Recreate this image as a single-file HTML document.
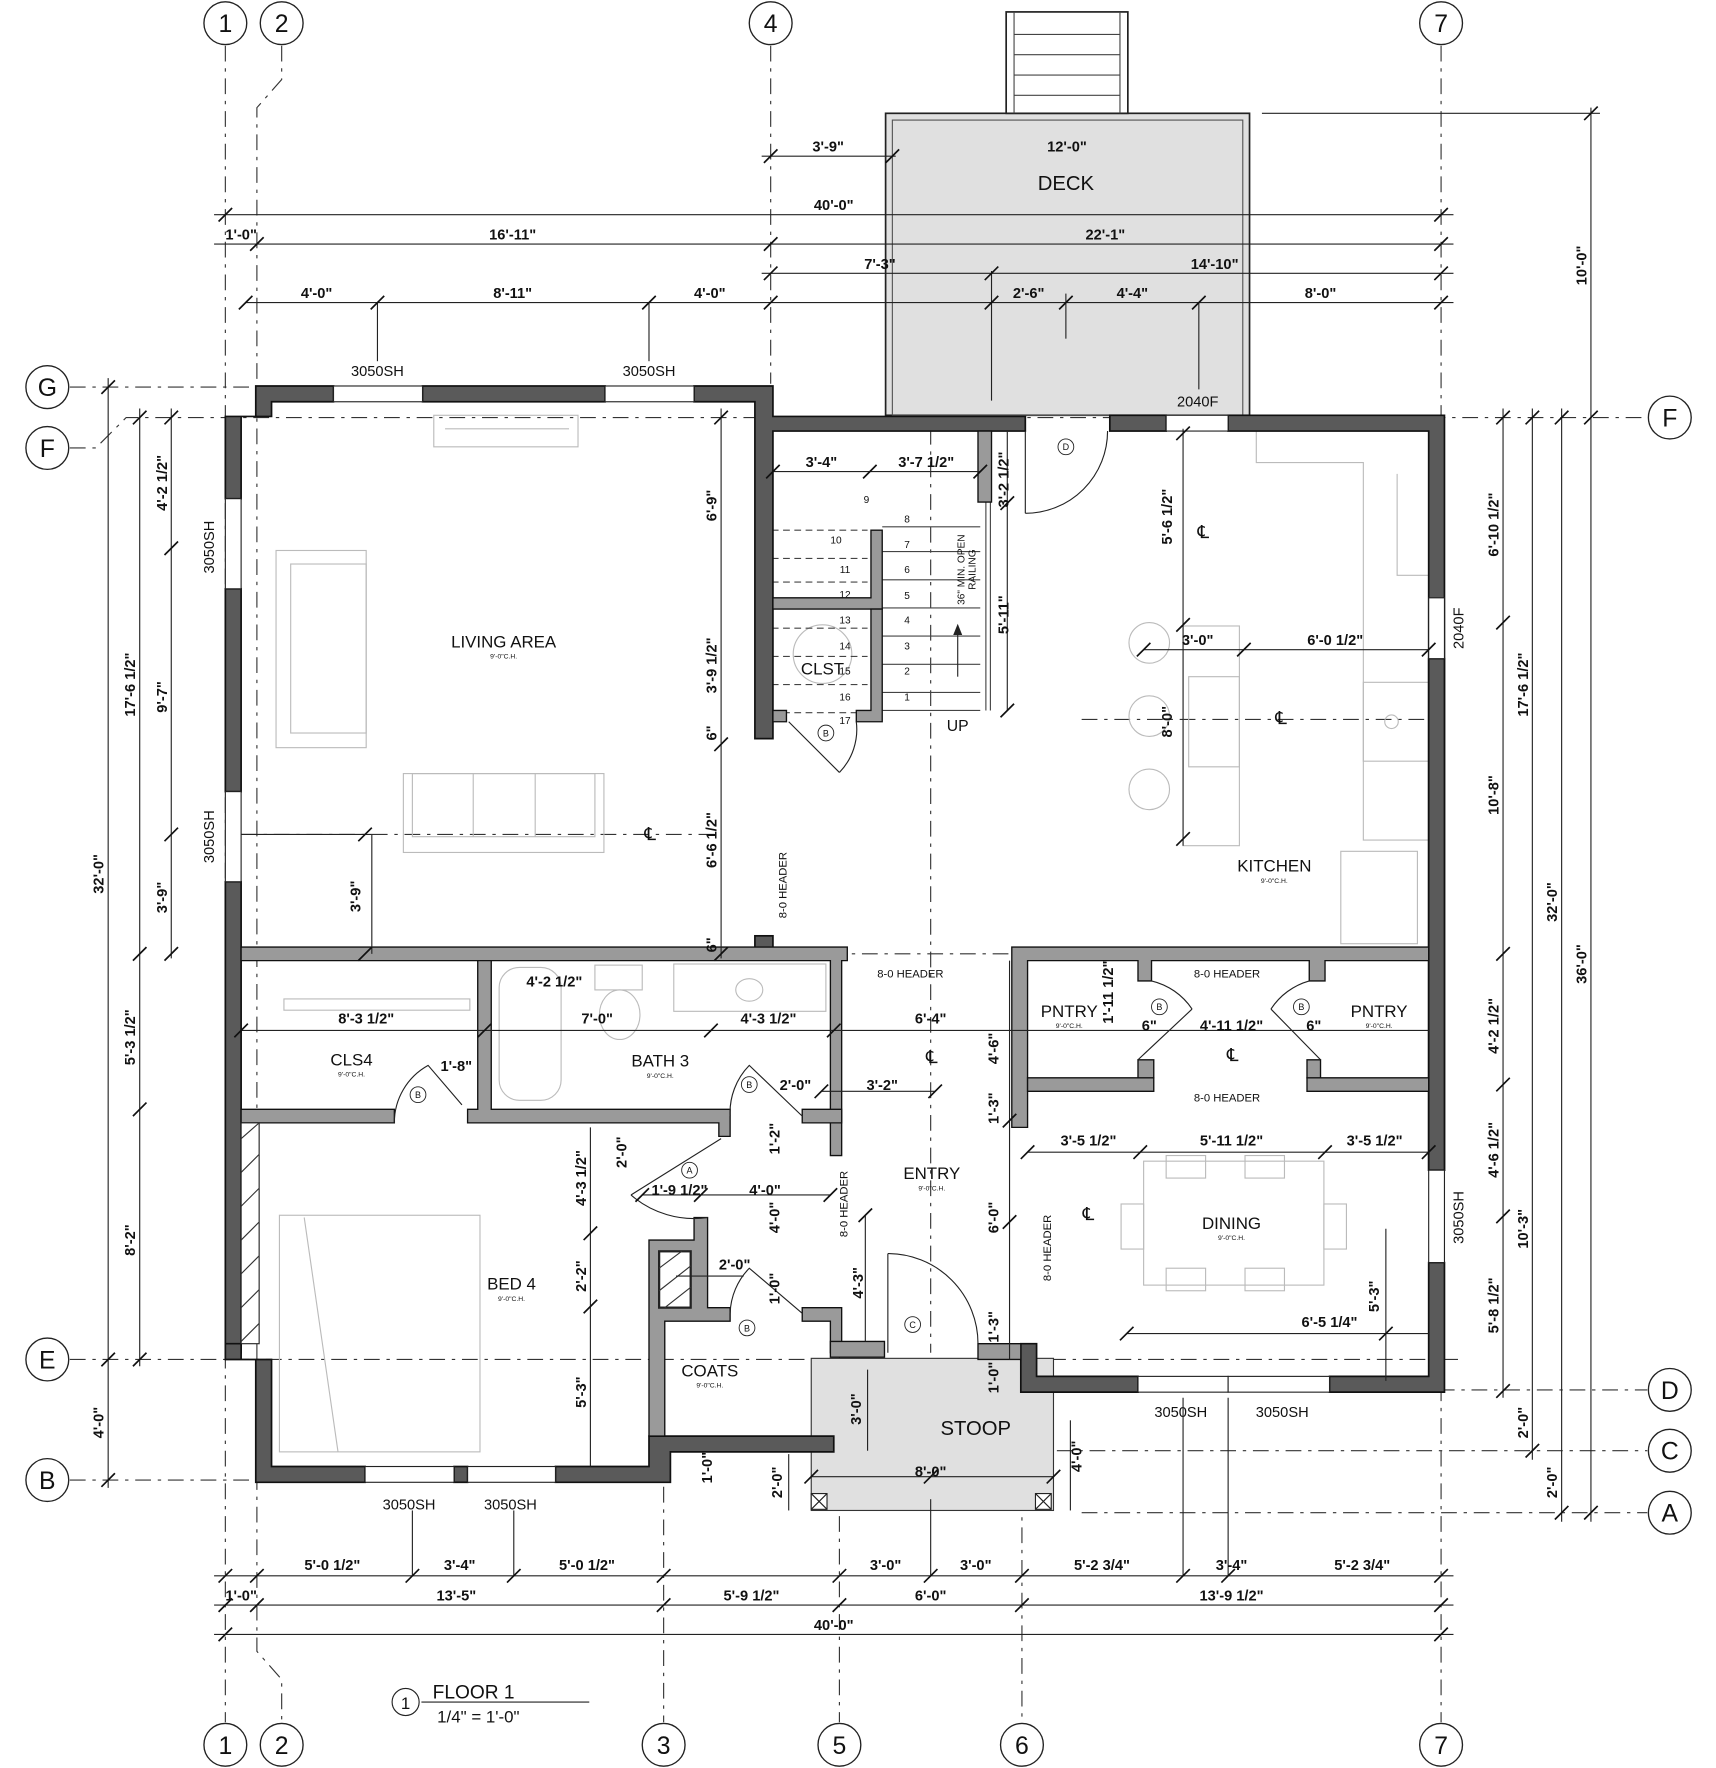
<!DOCTYPE html>
<html><head><meta charset="utf-8"><style>
html,body{margin:0;padding:0;background:#fff}
svg{display:block}
text{font-family:"Liberation Sans",sans-serif;fill:#111}
.d{font-size:13px;font-weight:bold;text-anchor:middle}
.r{font-size:15px;text-anchor:middle}
.s{font-size:6px;text-anchor:middle}
.n{font-size:9px;text-anchor:middle}
.g{font-size:22px;text-anchor:middle}
</style></head><body>
<svg width="1716" height="1768" viewBox="0 0 1523 1568" xmlns="http://www.w3.org/2000/svg">
<rect width="1523" height="1568" fill="#fff"/>
<g stroke="#333" stroke-width="1" stroke-dasharray="14,6,3,6" fill="none">
<line x1="200" y1="40" x2="200" y2="1528"/>
<polyline points="250,40 250,70 228,95 228,1465 250,1490 250,1528"/>
<line x1="684" y1="40" x2="684" y2="340"/>
<line x1="1279" y1="40" x2="1279" y2="1528"/>
<line x1="589" y1="1290" x2="589" y2="1528"/>
<line x1="745" y1="1200" x2="745" y2="1528"/>
<line x1="907" y1="1210" x2="907" y2="1528"/>
<line x1="62" y1="343" x2="230" y2="343"/>
<polyline points="62,397 85,397 112,370 1462,370"/>
<line x1="62" y1="1206" x2="1300" y2="1206"/>
<line x1="62" y1="1313" x2="230" y2="1313"/>
<line x1="900" y1="1233" x2="1462" y2="1233"/>
<line x1="590" y1="1287" x2="1462" y2="1287"/>
<line x1="960" y1="1342" x2="1462" y2="1342"/>
<line x1="214" y1="740" x2="640" y2="740"/>
<line x1="960" y1="638" x2="1268" y2="638"/>
<line x1="826" y1="380" x2="826" y2="1200"/>
<line x1="214" y1="846" x2="1268" y2="846"/>
</g>
<g fill="#fff" stroke="#222" stroke-width="1.2">
<circle cx="200" cy="20" r="19"/><circle cx="250" cy="20" r="19"/><circle cx="684" cy="20" r="19"/><circle cx="1279" cy="20" r="19"/>
<circle cx="200" cy="1548" r="19"/><circle cx="250" cy="1548" r="19"/><circle cx="589" cy="1548" r="19"/><circle cx="745" cy="1548" r="19"/><circle cx="907" cy="1548" r="19"/><circle cx="1279" cy="1548" r="19"/>
<circle cx="42" cy="343" r="19"/><circle cx="42" cy="397" r="19"/><circle cx="42" cy="1206" r="19"/><circle cx="42" cy="1313" r="19"/>
<circle cx="1482" cy="370" r="19"/><circle cx="1482" cy="1233" r="19"/><circle cx="1482" cy="1287" r="19"/><circle cx="1482" cy="1342" r="19"/>
</g>
<g class="g">
<text x="200" y="28">1</text><text x="250" y="28">2</text><text x="684" y="28">4</text><text x="1279" y="28">7</text>
<text x="200" y="1556">1</text><text x="250" y="1556">2</text><text x="589" y="1556">3</text><text x="745" y="1556">5</text><text x="907" y="1556">6</text><text x="1279" y="1556">7</text>
<text x="42" y="351">G</text><text x="42" y="405">F</text><text x="42" y="1214">E</text><text x="42" y="1321">B</text>
<text x="1482" y="378">F</text><text x="1482" y="1241">D</text><text x="1482" y="1295">C</text><text x="1482" y="1350">A</text>
</g>
<rect x="786" y="100" width="323" height="268" fill="#e0e0e0" stroke="#222" stroke-width="1.5"/>
<rect x="792" y="106" width="311" height="262" fill="none" stroke="#555" stroke-width="1"/>
<rect x="893" y="10" width="108" height="90" fill="#fff" stroke="#222" stroke-width="1.5"/>
<g stroke="#444" stroke-width="1">
<line x1="900" y1="10" x2="900" y2="100"/><line x1="994" y1="10" x2="994" y2="100"/>
<line x1="900" y1="30" x2="994" y2="30"/><line x1="900" y1="48" x2="994" y2="48"/><line x1="900" y1="66" x2="994" y2="66"/><line x1="900" y1="84" x2="994" y2="84"/>
</g>
<text x="946" y="168" style="font-size:18px;text-anchor:middle">DECK</text>
<rect x="720" y="1205" width="215" height="135" fill="#e0e0e0" stroke="#333" stroke-width="1"/>
<g fill="#fff" stroke="#222"><rect x="720" y="1325" width="14" height="14"/><rect x="919" y="1325" width="14" height="14"/></g>
<path d="M720,1325 l14,14 M734,1325 l-14,14 M919,1325 l14,14 M933,1325 l-14,14" stroke="#222"/>
<text x="866" y="1273" style="font-size:18px;text-anchor:middle">STOOP</text>
<g fill="none" stroke="#bbb" stroke-width="1">
<rect x="385" y="368" width="128" height="28"/><line x1="395" y1="380" x2="505" y2="380"/>
<rect x="245" y="488" width="80" height="175"/><rect x="258" y="500" width="67" height="150"/>
<rect x="358" y="686" width="178" height="70"/><rect x="366" y="686" width="162" height="56"/><line x1="420" y1="686" x2="420" y2="742"/><line x1="475" y1="686" x2="475" y2="742"/>
<rect x="1050" y="555" width="50" height="195"/><rect x="1055" y="600" width="45" height="80"/>
<circle cx="1020" cy="570" r="18"/><circle cx="1020" cy="635" r="18"/><circle cx="1020" cy="700" r="18"/>
<rect x="1210" y="605" width="58" height="70"/><circle cx="1235" cy="640" r="6"/>
<polyline points="1115,380 1115,410 1210,410 1210,745 1268,745"/><polyline points="1240,420 1240,510 1268,510"/>
<rect x="1190" y="755" width="68" height="82"/>
<rect x="1015" y="1030" width="160" height="110"/><rect x="995" y="1068" width="20" height="40"/><rect x="1175" y="1068" width="20" height="40"/>
<rect x="1035" y="1025" width="35" height="20"/><rect x="1105" y="1025" width="35" height="20"/><rect x="1035" y="1125" width="35" height="20"/><rect x="1105" y="1125" width="35" height="20"/>
<rect x="248" y="1078" width="178" height="210"/><line x1="270" y1="1080" x2="300" y2="1288"/>
<rect x="443" y="858" width="55" height="118" rx="18"/><ellipse cx="550" cy="900" rx="18" ry="22"/><rect x="528" y="856" width="42" height="22"/>
<rect x="598" y="855" width="135" height="42"/><ellipse cx="665" cy="878" rx="12" ry="10"/>
<rect x="252" y="886" width="165" height="10"/>
<circle cx="730" cy="580" r="26"/>
</g>
<g stroke="#444" stroke-width="1">
<line x1="775" y1="489" x2="870" y2="489"/><line x1="775" y1="514" x2="870" y2="514"/><line x1="775" y1="539" x2="870" y2="539"/><line x1="775" y1="564" x2="870" y2="564"/><line x1="775" y1="589" x2="870" y2="589"/><line x1="775" y1="614" x2="870" y2="614"/><line x1="775" y1="630" x2="870" y2="630"/><line x1="783" y1="467" x2="870" y2="467"/>
<line x1="875" y1="445" x2="875" y2="630"/><line x1="879" y1="445" x2="879" y2="630"/>
</g>
<g stroke="#444" stroke-width="1" stroke-dasharray="6,4">
<line x1="685" y1="532" x2="770" y2="532"/><line x1="685" y1="557" x2="770" y2="557"/><line x1="685" y1="582" x2="770" y2="582"/><line x1="685" y1="607" x2="770" y2="607"/><line x1="685" y1="632" x2="770" y2="632"/>
<line x1="685" y1="470" x2="770" y2="470"/><line x1="685" y1="495" x2="770" y2="495"/><line x1="685" y1="516" x2="770" y2="516"/>
</g>
<line x1="850" y1="600" x2="850" y2="555" stroke="#222"/><path d="M846,563 L850,553 L854,563Z" fill="#222"/>
<g class="n">
<text x="769" y="446">9</text><text x="805" y="463">8</text><text x="805" y="486">7</text><text x="805" y="508">6</text><text x="805" y="531">5</text><text x="805" y="553">4</text><text x="805" y="576">3</text><text x="805" y="598">2</text><text x="805" y="621">1</text>
<text x="742" y="482">10</text><text x="750" y="508">11</text><text x="750" y="530">12</text><text x="750" y="553">13</text><text x="750" y="576">14</text><text x="750" y="598">15</text><text x="750" y="621">16</text><text x="750" y="642">17</text>
</g>
<text transform="translate(856,505) rotate(-90)" class="n">36" MIN. OPEN</text>
<text transform="translate(866,505) rotate(-90)" class="n">RAILING</text>
<text x="850" y="648" class="r" style="font-size:14px">UP</text>
<g fill="#5a5a5a" stroke="#111" stroke-width="1.5">
<path d="M227,342 L296,342 L296,356 L241,356 L241,369 L214,369 L214,442 L200,442 L200,369 L227,369Z"/>
<rect x="375" y="342" width="162" height="14"/>
<path d="M616,342 L686,342 L686,369 L910,369 L910,382 L686,382 L686,655 L670,655 L670,356 L616,356Z"/>
<rect x="200" y="522" width="14" height="180"/>
<rect x="200" y="782" width="14" height="418"/>
<path d="M200,1192 L200,1206 L227,1206 L227,1315 L324,1315 L324,1301 L241,1301 L241,1206 L214,1206 L214,1192Z"/>
<rect x="403" y="1301" width="12" height="14"/>
<path d="M493,1301 L576,1301 L576,1274 L740,1274 L740,1288 L595,1288 L595,1315 L493,1315Z"/>
<rect x="985" y="368" width="50" height="14"/>
<path d="M1090,368 L1282,368 L1282,1038 L1268,1038 L1268,382 L1090,382Z"/>
<rect x="1268" y="584" width="14" height="454"/>
<path d="M1268,1120 L1282,1120 L1282,1235 L1180,1235 L1180,1221 L1268,1221Z"/>
<path d="M906,1235 L1010,1235 L1010,1221 L920,1221 L920,1192 L906,1192Z"/>
<rect x="670" y="830" width="16" height="16"/>
</g>
<g fill="#fff" stroke="#222" stroke-width="1">
<rect x="296" y="342" width="79" height="14"/><rect x="537" y="342" width="79" height="14"/>
<rect x="200" y="442" width="14" height="80"/><rect x="200" y="702" width="14" height="80"/>
<rect x="1035" y="368" width="55" height="14"/><rect x="1268" y="530" width="14" height="54"/><rect x="1268" y="1038" width="14" height="82"/>
<rect x="324" y="1301" width="79" height="14"/><rect x="415" y="1301" width="78" height="14"/>
<rect x="1010" y="1221" width="80" height="14"/><rect x="1090" y="1221" width="90" height="14"/>
</g>
<g fill="#9a9a9a" stroke="#111" stroke-width="1.2">
<path d="M214,840 L752,840 L752,852 L747,852 L747,1025 L737,1025 L737,852 L214,852Z"/>
<path d="M898,840 L1268,840 L1268,852 L1176,852 L1176,870 L1162,870 L1162,852 L1022,852 L1022,870 L1010,870 L1010,852 L912,852 L912,1000 L898,1000Z"/>
<path d="M912,956 L1024,956 L1024,968 L912,968Z"/><path d="M1160,956 L1268,956 L1268,968 L1160,968Z"/>
<path d="M1010,940 L1024,940 L1024,956 L1010,956Z"/><path d="M1160,940 L1172,940 L1172,956 L1160,956Z"/>
<path d="M424,852 L436,852 L436,984 L648,984 L648,1008 L638,1008 L638,996 L415,996 L415,984 L424,984Z"/>
<path d="M214,984 L350,984 L350,996 L214,996Z"/>
<path d="M712,984 L747,984 L747,996 L712,996Z"/>
<path d="M616,1080 L628,1080 L628,1160 L648,1160 L648,1172 L590,1172 L590,1274 L576,1274 L576,1100 L616,1100Z"/>
<path d="M712,1160 L747,1160 L747,1200 L737,1200 L737,1172 L712,1172Z"/>
<path d="M737,1190 L785,1190 L785,1204 L737,1204Z"/>
<path d="M868,1192 L906,1192 L906,1206 L868,1206Z"/>
<path d="M773,470 L783,470 L783,540 L686,540 L686,530 L773,530Z"/>
<path d="M773,540 L783,540 L783,640 L760,640 L760,630 L773,630Z"/>
<path d="M686,630 L698,630 L698,640 L686,640Z"/>
<path d="M868,382 L880,382 L880,445 L868,445Z"/>
</g>
<rect x="214" y="996" width="16" height="196" fill="#fff" stroke="#222"/>
<path d="M214,1010 l16,-14 M214,1040 l16,-16 M214,1070 l16,-16 M214,1100 l16,-16 M214,1130 l16,-16 M214,1160 l16,-16 M214,1190 l16,-16" stroke="#333"/>
<rect x="585" y="1110" width="28" height="50" fill="#fff" stroke="#222" stroke-width="2"/>
<path d="M585,1125 l20,-15 M585,1145 l28,-22 M590,1160 l23,-18" stroke="#333"/>
<g fill="none" stroke="#222" stroke-width="1">
<path d="M910,382 L910,455 M910,455 A73,73 0 0 0 983,382"/>
<path d="M788,1200 L788,1112 M788,1112 A80,80 0 0 1 868,1192"/>
<path d="M700,640 L745,685 M745,685 A55,55 0 0 0 760,640"/>
<path d="M350,996 A58,58 0 0 1 380,945 L410,980"/>
<path d="M640,1010 L560,1060 M560,1060 A85,85 0 0 0 628,1080"/>
<path d="M648,990 A60,60 0 0 1 665,945 L712,990"/>
<path d="M648,1165 A60,60 0 0 1 665,1125 L712,1165"/>
<path d="M1010,940 L1058,895 M1022,870 A60,60 0 0 1 1058,895"/>
<path d="M1172,940 L1128,895 M1162,870 A60,60 0 0 0 1128,895"/>
</g>
<g fill="#fff" stroke="#222" stroke-width="0.8"><circle cx="946" cy="396" r="7"/><circle cx="733" cy="650" r="7"/><circle cx="371" cy="971" r="7"/><circle cx="665" cy="962" r="7"/><circle cx="612" cy="1038" r="7"/><circle cx="663" cy="1178" r="7"/><circle cx="810" cy="1175" r="7"/><circle cx="1029" cy="893" r="7"/><circle cx="1155" cy="893" r="7"/></g>
<g class="n" style="font-size:8px"><text x="946" y="399">D</text><text x="733" y="653">B</text><text x="371" y="974">B</text><text x="665" y="965">B</text><text x="612" y="1041">A</text><text x="663" y="1181">B</text><text x="810" y="1178">C</text><text x="1029" y="896">B</text><text x="1155" y="896">B</text></g>
<g class="r">
<text x="447" y="574">LIVING AREA</text><text x="1131" y="773">KITCHEN</text><text x="730" y="598">CLST</text>
<text x="312" y="945">CLS4</text><text x="586" y="946">BATH 3</text><text x="949" y="902">PNTRY</text><text x="1224" y="902">PNTRY</text>
<text x="827" y="1046">ENTRY</text><text x="1093" y="1090">DINING</text><text x="454" y="1144">BED 4</text><text x="630" y="1221">COATS</text>
</g>
<g class="s">
<text x="447" y="584">9'-0"C.H.</text><text x="1131" y="783">9'-0"C.H.</text><text x="312" y="955">9'-0"C.H.</text><text x="586" y="956">9'-0"C.H.</text><text x="949" y="912">9'-0"C.H.</text><text x="1224" y="912">9'-0"C.H.</text><text x="827" y="1056">9'-0"C.H.</text><text x="1093" y="1100">9'-0"C.H.</text><text x="454" y="1154">9'-0"C.H.</text><text x="630" y="1231">9'-0"C.H.</text>
</g>
<g class="n" style="font-size:10px"><text x="808" y="867">8-0 HEADER</text><text x="1089" y="867">8-0 HEADER</text><text x="1089" y="977">8-0 HEADER</text></g>
<text transform="translate(698,785) rotate(-90)" class="n" style="font-size:10px">8-0 HEADER</text>
<text transform="translate(752,1068) rotate(-90)" class="n" style="font-size:10px">8-0 HEADER</text>
<text transform="translate(933,1107) rotate(-90)" class="n" style="font-size:10px">8-0 HEADER</text>
<g style="font-size:13px;text-anchor:middle">
<text x="335" y="333">3050SH</text><text x="576" y="333">3050SH</text><text x="1063" y="360">2040F</text>
<text x="363" y="1339">3050SH</text><text x="453" y="1339">3050SH</text><text x="1048" y="1257">3050SH</text><text x="1138" y="1257">3050SH</text>
</g>
<text transform="translate(190,485) rotate(-90)" style="font-size:13px;text-anchor:middle">3050SH</text>
<text transform="translate(190,742) rotate(-90)" style="font-size:13px;text-anchor:middle">3050SH</text>
<text transform="translate(1299,557) rotate(-90)" style="font-size:13px;text-anchor:middle">2040F</text>
<text transform="translate(1299,1080) rotate(-90)" style="font-size:13px;text-anchor:middle">3050SH</text>
<g stroke="#222" stroke-width="1" fill="none">
<line x1="190" y1="190" x2="1290" y2="190"/><line x1="190" y1="216" x2="1290" y2="216"/><line x1="676" y1="242" x2="1290" y2="242"/><line x1="218" y1="268" x2="1290" y2="268"/><line x1="676" y1="138" x2="795" y2="138"/>
<line x1="190" y1="1398" x2="1290" y2="1398"/><line x1="190" y1="1424" x2="1290" y2="1424"/><line x1="190" y1="1450" x2="1290" y2="1450"/>
<line x1="96" y1="335" x2="96" y2="1320"/><line x1="124" y1="362" x2="124" y2="1212"/><line x1="152" y1="362" x2="152" y2="850"/>
<line x1="1412" y1="95" x2="1412" y2="1350"/><line x1="1386" y1="362" x2="1386" y2="1350"/><line x1="1360" y1="362" x2="1360" y2="1295"/><line x1="1334" y1="362" x2="1334" y2="1240"/>
<line x1="1120" y1="100" x2="1420" y2="100"/>
<line x1="640" y1="362" x2="640" y2="850"/><line x1="1050" y1="380" x2="1050" y2="750"/><line x1="1230" y1="1090" x2="1230" y2="1225"/>
<line x1="214" y1="914" x2="1268" y2="914"/><line x1="1015" y1="576" x2="1268" y2="576"/><line x1="214" y1="740" x2="330" y2="740"/>
<line x1="912" y1="1022" x2="1268" y2="1022"/><line x1="570" y1="1060" x2="737" y2="1060"/><line x1="600" y1="1132" x2="660" y2="1132"/>
<line x1="330" y1="740" x2="330" y2="846"/><line x1="524" y1="1000" x2="524" y2="1301"/><line x1="896" y1="852" x2="896" y2="1206"/><line x1="768" y1="1078" x2="768" y2="1190"/>
<line x1="720" y1="1310" x2="935" y2="1310"/><line x1="700" y1="1290" x2="700" y2="1340"/><line x1="950" y1="1260" x2="950" y2="1340"/><line x1="770" y1="1215" x2="770" y2="1287"/>
<line x1="880" y1="240" x2="880" y2="355"/><line x1="946" y1="260" x2="946" y2="300"/><line x1="1064" y1="268" x2="1064" y2="345"/><line x1="335" y1="268" x2="335" y2="320"/><line x1="576" y1="268" x2="576" y2="320"/>
<line x1="686" y1="418" x2="870" y2="418"/><line x1="894" y1="382" x2="894" y2="630"/>
<line x1="729" y1="968" x2="830" y2="968"/><line x1="1000" y1="1183" x2="1268" y2="1183"/>
<line x1="826" y1="1330" x2="826" y2="1398"/><line x1="1050" y1="1240" x2="1050" y2="1398"/><line x1="1090" y1="1240" x2="1090" y2="1398"/>
<line x1="456" y1="1340" x2="456" y2="1398"/><line x1="366" y1="1340" x2="366" y2="1398"/>
</g>
<g stroke="#111" stroke-width="1.5">
<path d="M194,196 l12,-12 M1273,196 l12,-12 M222,222 l12,-12 M678,222 l12,-12 M1273,222 l12,-12 M678,248 l12,-12 M874,248 l12,-12 M1273,248 l12,-12 M212,274 l12,-12 M329,274 l12,-12 M570,274 l12,-12 M678,274 l12,-12 M874,274 l12,-12 M940,274 l12,-12 M1058,274 l12,-12 M1273,274 l12,-12 M678,144 l12,-12 M786,144 l12,-12"/>
<path d="M194,1404 l12,-12 M222,1404 l12,-12 M360,1404 l12,-12 M450,1404 l12,-12 M583,1404 l12,-12 M739,1404 l12,-12 M820,1404 l12,-12 M901,1404 l12,-12 M1044,1404 l12,-12 M1084,1404 l12,-12 M1273,1404 l12,-12 M194,1430 l12,-12 M222,1430 l12,-12 M583,1430 l12,-12 M739,1430 l12,-12 M901,1430 l12,-12 M1273,1430 l12,-12 M194,1456 l12,-12 M1273,1456 l12,-12"/>
<path d="M90,349 l12,-12 M90,1212 l12,-12 M90,1319 l12,-12 M118,376 l12,-12 M118,852 l12,-12 M118,990 l12,-12 M118,1212 l12,-12 M146,376 l12,-12 M146,492 l12,-12 M146,746 l12,-12 M146,852 l12,-12"/>
<path d="M1406,106 l12,-12 M1406,376 l12,-12 M1406,1348 l12,-12 M1380,376 l12,-12 M1380,1348 l12,-12 M1354,376 l12,-12 M1354,1293 l12,-12 M1328,376 l12,-12 M1328,558 l12,-12 M1328,852 l12,-12 M1328,968 l12,-12 M1328,1085 l12,-12 M1328,1240 l12,-12"/>
<path d="M634,376 l12,-12 M634,666 l12,-12 M634,852 l12,-12 M1044,390 l12,-12 M1044,560 l12,-12 M1044,750 l12,-12 M208,920 l12,-12 M424,920 l12,-12 M625,920 l12,-12 M734,920 l12,-12 M1009,582 l12,-12 M1098,582 l12,-12 M1262,582 l12,-12 M906,1028 l12,-12 M1006,1028 l12,-12 M1170,1028 l12,-12 M1262,1028 l12,-12 M564,1066 l12,-12 M616,1066 l12,-12 M731,1066 l12,-12 M318,746 l12,-12 M318,852 l12,-12 M518,1100 l12,-12 M518,1165 l12,-12 M890,1000 l12,-12 M890,1090 l12,-12 M762,1084 l12,-12 M714,1316 l12,-12 M820,1316 l12,-12 M929,1316 l12,-12 M723,974 l12,-12 M824,974 l12,-12 M994,1189 l12,-12 M1224,1189 l12,-12 M680,424 l12,-12 M766,424 l12,-12 M864,424 l12,-12 M888,452 l12,-12 M888,636 l12,-12"/>
</g>
<g class="d">
<text x="735" y="134">3'-9"</text><text x="947" y="134">12'-0"</text><text x="740" y="186">40'-0"</text><text x="214" y="212">1'-0"</text><text x="455" y="212">16'-11"</text><text x="981" y="212">22'-1"</text>
<text x="781" y="238">7'-3"</text><text x="1078" y="238">14'-10"</text><text x="281" y="264">4'-0"</text><text x="455" y="264">8'-11"</text><text x="630" y="264">4'-0"</text><text x="913" y="264">2'-6"</text><text x="1005" y="264">4'-4"</text><text x="1172" y="264">8'-0"</text>
<text x="729" y="414">3'-4"</text><text x="822" y="414">3'-7 1/2"</text>
<text x="325" y="908">8'-3 1/2"</text><text x="492" y="875">4'-2 1/2"</text><text x="530" y="908">7'-0"</text><text x="682" y="908">4'-3 1/2"</text><text x="826" y="908">6'-4"</text><text x="1093" y="914">4'-11 1/2"</text>
<text x="1063" y="572">3'-0"</text><text x="1185" y="572">6'-0 1/2"</text><text x="405" y="950">1'-8"</text><text x="706" y="967">2'-0"</text><text x="783" y="967">3'-2"</text>
<text x="966" y="1016">3'-5 1/2"</text><text x="1093" y="1016">5'-11 1/2"</text><text x="1220" y="1016">3'-5 1/2"</text><text x="603" y="1060">1'-9 1/2"</text><text x="679" y="1060">4'-0"</text><text x="652" y="1126">2'-0"</text>
<text x="1180" y="1177">6'-5 1/4"</text><text x="826" y="1310">8'-0"</text>
<text x="295" y="1393">5'-0 1/2"</text><text x="408" y="1393">3'-4"</text><text x="521" y="1393">5'-0 1/2"</text><text x="786" y="1393">3'-0"</text><text x="866" y="1393">3'-0"</text><text x="978" y="1393">5'-2 3/4"</text><text x="1093" y="1393">3'-4"</text><text x="1209" y="1393">5'-2 3/4"</text>
<text x="214" y="1420">1'-0"</text><text x="405" y="1420">13'-5"</text><text x="667" y="1420">5'-9 1/2"</text><text x="826" y="1420">6'-0"</text><text x="1093" y="1420">13'-9 1/2"</text><text x="740" y="1446">40'-0"</text>
</g>
<g class="d">
<text transform="translate(92,775) rotate(-90)">32'-0"</text><text transform="translate(92,1262) rotate(-90)">4'-0"</text>
<text transform="translate(120,607) rotate(-90)">17'-6 1/2"</text><text transform="translate(120,920) rotate(-90)">5'-3 1/2"</text><text transform="translate(120,1100) rotate(-90)">8'-2"</text>
<text transform="translate(148,428) rotate(-90)">4'-2 1/2"</text><text transform="translate(148,618) rotate(-90)">9'-7"</text><text transform="translate(148,796) rotate(-90)">3'-9"</text>
<text transform="translate(636,448) rotate(-90)">6'-9"</text><text transform="translate(636,590) rotate(-90)">3'-9 1/2"</text><text transform="translate(636,650) rotate(-90)">6"</text><text transform="translate(636,745) rotate(-90)">6'-6 1/2"</text><text transform="translate(636,838) rotate(-90)">6"</text>
<text transform="translate(320,795) rotate(-90)">3'-9"</text><text transform="translate(1040,458) rotate(-90)">5'-6 1/2"</text><text transform="translate(1040,640) rotate(-90)">8'-0"</text>
<text transform="translate(895,425) rotate(-90)">3'-2 1/2"</text><text transform="translate(895,545) rotate(-90)">5'-11"</text>
<text transform="translate(1330,465) rotate(-90)">6'-10 1/2"</text><text transform="translate(1330,705) rotate(-90)">10'-8"</text><text transform="translate(1330,910) rotate(-90)">4'-2 1/2"</text><text transform="translate(1330,1020) rotate(-90)">4'-6 1/2"</text><text transform="translate(1330,1158) rotate(-90)">5'-8 1/2"</text>
<text transform="translate(1356,607) rotate(-90)">17'-6 1/2"</text><text transform="translate(1356,1090) rotate(-90)">10'-3"</text><text transform="translate(1356,1262) rotate(-90)">2'-0"</text>
<text transform="translate(1382,800) rotate(-90)">32'-0"</text><text transform="translate(1382,1315) rotate(-90)">2'-0"</text>
<text transform="translate(1408,855) rotate(-90)">36'-0"</text><text transform="translate(1408,235) rotate(-90)">10'-0"</text>
<text transform="translate(520,1045) rotate(-90)">4'-3 1/2"</text><text transform="translate(520,1132) rotate(-90)">2'-2"</text><text transform="translate(520,1235) rotate(-90)">5'-3"</text>
<text transform="translate(556,1022) rotate(-90)">2'-0"</text><text transform="translate(692,1010) rotate(-90)">1'-2"</text><text transform="translate(692,1080) rotate(-90)">4'-0"</text><text transform="translate(692,1143) rotate(-90)">1'-0"</text>
<text transform="translate(766,1138) rotate(-90)">4'-3"</text><text transform="translate(886,930) rotate(-90)">4'-6"</text><text transform="translate(886,983) rotate(-90)">1'-3"</text><text transform="translate(886,1080) rotate(-90)">6'-0"</text><text transform="translate(886,1177) rotate(-90)">1'-3"</text><text transform="translate(886,1222) rotate(-90)">1'-0"</text>
<text transform="translate(988,880) rotate(-90)">1'-11 1/2"</text><text transform="translate(1224,1150) rotate(-90)">5'-3"</text>
<text transform="translate(764,1250) rotate(-90)">3'-0"</text><text transform="translate(694,1315) rotate(-90)">2'-0"</text><text transform="translate(632,1302) rotate(-90)">1'-0"</text><text transform="translate(960,1292) rotate(-90)">4'-0"</text>
</g>
<g class="d"><text x="1020" y="914">6"</text><text x="1166" y="914">6"</text></g>
<g style="font-size:16px;text-anchor:middle"><text x="577" y="745">℄</text><text x="1068" y="477">℄</text><text x="1137" y="642">℄</text><text x="827" y="943">℄</text><text x="1094" y="941">℄</text><text x="966" y="1082">℄</text></g>
<circle cx="360" cy="1510" r="12" fill="#fff" stroke="#222"/><text x="360" y="1516" style="font-size:15px;text-anchor:middle">1</text>
<text x="384" y="1507" style="font-size:17px">FLOOR 1</text>
<line x1="374" y1="1510" x2="523" y2="1510" stroke="#222"/>
<text x="388" y="1528" style="font-size:15px">1/4" = 1'-0"</text>
</svg>
</body></html>
